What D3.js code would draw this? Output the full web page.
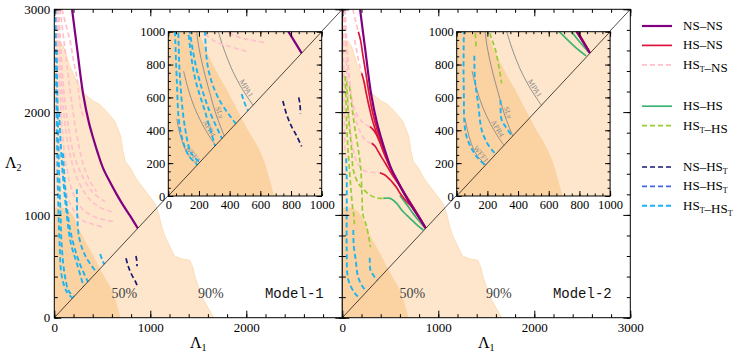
<!DOCTYPE html>
<html>
<head>
<meta charset="utf-8">
<script src="https://cdn.jsdelivr.net/npm/d3@7"></script>
<style>
  body { margin: 0; background: #fff; }
  svg, svg text { font-family: "Liberation Serif", "DejaVu Serif", "Times New Roman", serif; }
  svg text.mono { font-family: "Liberation Mono", "DejaVu Sans Mono", monospace; }
</style>
</head>
<body>
<svg id="chart" width="747" height="358" font-family="Liberation Serif, DejaVu Serif, serif"></svg>
<script>
// ---- data (Lambda_1, Lambda_2 pairs) ----
var mainTicks = [0, 1000, 2000, 3000];
var insetTicks = [0, 200, 400, 600, 800, 1000];
var credLabels = ['50%', '90%'];
var modelNames = ['Model-1', 'Model-2'];

// credible regions of the posterior
var cred90 = [[0,0],[0,2700],[60,2690],[100,2630],[160,2450],[240,2290],[310,2180],[400,2110],[480,2070],[560,1990],[630,1910],[690,1770],[715,1620],[740,1520],[790,1460],[860,1340],[960,1220],[1050,1110],[1090,1000],[1120,880],[1150,800],[1200,700],[1250,600],[1330,570],[1410,560],[1440,500],[1460,420],[1500,300],[1540,200],[1600,100],[1660,0]];
var cred50 = [[0,0],[0,1070],[60,1075],[110,1065],[160,1035],[200,990],[240,900],[280,820],[330,730],[380,650],[430,560],[480,470],[520,400],[560,340],[600,270],[630,200],[655,120],[675,50],[690,0]];

// NS-NS (same in both models)
var nsNs = [[185,3000],[240,2600],[302,2166],[360,1900],[406,1745],[450,1610],[510,1450],[580,1320],[650,1200],[720,1090],[790,990],[869,870]];

// Model-1
var m1HstNs = [
  [[80,3000],[120,2850],[163,2700],[200,2500],[233,2350],[260,2150],[285,2000],[320,1940]],
  [[60,3000],[100,2700],[140,2400],[180,2100],[230,1800],[300,1500],[370,1330],[441,1226]],
  [[45,3000],[70,2600],[100,2200],[140,1900],[200,1600],[280,1400],[400,1220],[528,1128]],
  [[35,3000],[55,2600],[80,2200],[110,1900],[160,1600],[240,1350],[360,1160],[480,1070],[598,1031]],
  [[25,3000],[40,2600],[60,2200],[85,1800],[130,1450],[200,1200],[300,1050],[450,970],[560,945],[632,934]],
  [[18,3000],[28,2500],[42,2000],[65,1600],[105,1300],[170,1100],[272,960],[400,910],[522,878]],
  [[8,3000],[12,2400],[18,1800],[26,1400],[34,1200]]
];
var m1HstHst = [
  [[12,3000],[18,2400],[25,2000],[35,1400],[44,1000],[55,718],[76,414],[130,251],[190,190]],
  [[25,2600],[35,2000],[48,1500],[65,1000],[76,718],[109,414],[150,260],[205,205]],
  [[50,2000],[80,1500],[130,1000],[174,718],[239,515],[305,305]],
  [[90,1600],[115,1250],[141,1000],[185,771],[261,535],[350,350]],
  [[235,1250],[239,1000],[261,771],[326,596],[440,440]],
  [[478,620],[500,560],[520,520]]
];
var m1NsHst = [
  [[747,578],[770,500],[800,430],[840,360],[869,302]],
  [[850,600],[858,560],[862,500]]
];

// Model-2
var m2HsNs = [
  [[167,2782],[190,2700],[215,2550],[245,2380],[275,2200],[310,2020],[350,1870],[400,1720],[460,1560],[520,1420],[590,1300],[660,1185],[730,1075],[800,975],[866,872]],
  [[202,2377],[225,2300],[250,2180],[280,2050],[320,1900],[370,1760],[430,1620],[500,1460],[580,1315],[660,1180],[740,1060],[866,874]],
  [[288,1858],[330,1820],[358,1777],[395,1700],[427,1615],[479,1502],[540,1390],[610,1275],[680,1160],[750,1055],[820,950],[866,875]],
  [[306,1697],[340,1670],[375,1615],[410,1560],[450,1500],[520,1390],[600,1280],[680,1165],[760,1045],[866,878]],
  [[392,1410],[444,1388],[490,1350],[531,1307],[570,1260],[601,1210],[660,1140],[723,1080],[790,990],[862,880]]
];
var m2HstNs = [
  [[20,3000],[35,2700],[55,2450],[85,2200],[120,2050],[170,1950],[230,1885],[288,1858]],
  [[30,3000],[45,2700],[65,2450],[95,2150],[135,1950],[190,1800],[250,1720],[306,1697]],
  [[40,2500],[55,2200],[75,1900],[110,1650],[160,1500],[230,1430],[300,1415],[392,1410]],
  [[110,3000],[140,2880],[167,2782]],
  [[130,2700],[170,2500],[202,2377]],
  [[10,3000],[14,2500],[20,2000],[28,1600]]
];
var m2HsHs = [
  [[427,1161],[497,1161],[566,1113],[618,1048],[705,967],[780,900],[844,853]],
  [[600,1190],[680,1090],[740,1010],[800,940],[860,875]]
];
var m2HstHs = [
  [[30,2350],[38,2100],[45,1900],[55,1700],[70,1500],[90,1250],[110,1050],[120,1000],[126,909]],
  [[45,2300],[55,2100],[65,1950],[80,1800],[98,1630],[115,1437],[167,1307],[219,1250],[288,1193],[360,1165],[427,1161]],
  [[75,2250],[100,2050],[130,1850],[165,1650],[192,1450],[205,1200],[215,1000],[254,885],[293,686]]
];
var m2HstHst = [
  [[40,1550],[46,1372],[46,1000],[46,659],[63,367],[132,237],[184,189]],
  [[115,853],[119,706],[140,560],[163,402],[200,320],[239,270],[255,255]],
  [[286,584],[293,463],[320,420],[358,371],[367,367]]
];

// EOS curves shown in the insets
var eosNames = ['WFF1', 'APR4', 'SLy', 'MPA1'];
var eosCurves = [
  [[55,470],[70,400],[95,320],[130,250],[190,190]],
  [[100,760],[130,650],[170,540],[220,440],[270,360],[308,308]],
  [[185,1000],[200,900],[230,770],[270,630],[310,500],[365,365]],
  [[326,1000],[360,900],[410,780],[470,670],[552,552]]
];

var legendKinds = ['nsNs','hsNs','hstNs', null, 'hsHs','hstHs', null, 'nsHst','hsHst','hstHst'];

// ---- styles ----
var SERIF = '"Liberation Serif", "DejaVu Serif", serif';
var styles = {
  nsNs:   {color: '#800080', width: 2.2, dash: null,  a: 'NS', b: 'NS'},
  hsNs:   {color: '#dc143c', width: 1.7, dash: null,  a: 'HS', b: 'NS'},
  hstNs:  {color: '#ffc0cb', width: 1.7, dash: '5,3', a: 'HST', b: 'NS'},
  hsHs:   {color: '#3cb371', width: 1.7, dash: null,  a: 'HS', b: 'HS'},
  hstHs:  {color: '#9acd32', width: 1.7, dash: '5,3', a: 'HST', b: 'HS'},
  nsHst:  {color: '#191970', width: 1.7, dash: '5,3', a: 'NS', b: 'HST'},
  hsHst:  {color: '#4169e1', width: 1.7, dash: '5,3', a: 'HS', b: 'HST'},
  hstHst: {color: '#1cb4f0', width: 1.9, dash: '5,3', a: 'HST', b: 'HST'}
};
var fill90 = '#fde6cb', fill50 = '#fbd3a3';

var svg = d3.select('#chart');
var defs = svg.append('defs');

var panels = [
  {x0: 54.3, ix0: 168.3, name: modelNames[0], showYLabels: true, xLabels: [0, 1000, 2000],
   series: [['hstNs', m1HstNs], ['hstHst', m1HstHst], ['nsHst', m1NsHst], ['nsNs', [nsNs]]]},
  {x0: 342.3, ix0: 456.7, name: modelNames[1], showYLabels: false, xLabels: mainTicks,
   series: [['hstNs', m2HstNs], ['hstHst', m2HstHst], ['hstHs', m2HstHs], ['hsHs', m2HsHs], ['hsNs', m2HsNs], ['nsNs', [nsNs]]]}
];

function drawContent(g, x, y, series, withEos) {
  var area = d3.line().x(function(d){ return x(d[0]); }).y(function(d){ return y(d[1]); }).curve(d3.curveLinearClosed);
  g.append('path').attr('d', area(cred90)).attr('fill', fill90).attr('stroke', '#fbd8ae').attr('stroke-width', 0.8);
  g.append('path').attr('d', area(cred50)).attr('fill', fill50);

  var line = d3.line().x(function(d){ return x(d[0]); }).y(function(d){ return y(d[1]); })
    .curve(d3.curveCatmullRom.alpha(0.5));

  if (withEos) {
    eosCurves.forEach(function(c, i) {
      var p = g.append('path').attr('d', line(c)).attr('fill', 'none')
        .attr('stroke', '#888').attr('stroke-width', 0.9);
      var node = p.node(), L = node.getTotalLength();
      var at = L * 0.78;
      var p1 = node.getPointAtLength(at - 2), p2 = node.getPointAtLength(at + 2), pm = node.getPointAtLength(at);
      var ang = Math.atan2(p2.y - p1.y, p2.x - p1.x) * 180 / Math.PI;
      g.append('text').attr('transform', 'translate(' + pm.x + ',' + pm.y + ') rotate(' + ang + ')')
        .attr('dy', -1.5).attr('text-anchor', 'middle').attr('font-size', 7.5)
        .style('font-family', SERIF).attr('fill', '#888').text(eosNames[i]);
    });
  }

  series.forEach(function(s) {
    var st = styles[s[0]];
    s[1].forEach(function(pts) {
      g.append('path').attr('d', line(pts)).attr('fill', 'none')
        .attr('stroke', st.color).attr('stroke-width', st.width)
        .attr('stroke-dasharray', st.dash);
    });
  });

  // diagonal Lambda1 = Lambda2
  var dmax = x.domain()[1];
  g.append('line').attr('x1', x(0)).attr('y1', y(0)).attr('x2', x(dmax)).attr('y2', y(dmax))
    .attr('stroke', '#000').attr('stroke-width', 0.7);
}

function drawFrame(g, x, y, majors, minors, majLen, minLen, xLab, yLab, fs, pad) {
  var bot = y.range()[0], top = y.range()[1], lft = x.range()[0], rgt = x.range()[1];
  function fmt(list) { return function(d){ return list && list.indexOf(d) >= 0 ? d : ''; }; }
  var style = function(a) {
    a.attr('font-family', null).attr('font-size', fs);
    a.selectAll('text').style('font-family', SERIF).style('font-size', fs + 'px');
    a.select('.domain').remove();
  };

  g.append('g').attr('transform', 'translate(0,' + bot + ')')
    .call(d3.axisBottom(x).tickValues(majors).tickSize(-majLen).tickPadding(pad).tickFormat(fmt(xLab))).call(style);
  g.append('g').attr('transform', 'translate(0,' + bot + ')')
    .call(d3.axisBottom(x).tickValues(minors).tickSize(-minLen).tickFormat('')).call(style);
  g.append('g').attr('transform', 'translate(0,' + top + ')')
    .call(d3.axisTop(x).tickValues(majors).tickSize(-majLen).tickFormat('')).call(style);
  g.append('g').attr('transform', 'translate(0,' + top + ')')
    .call(d3.axisTop(x).tickValues(minors).tickSize(-minLen).tickFormat('')).call(style);
  g.append('g').attr('transform', 'translate(' + lft + ',0)')
    .call(d3.axisLeft(y).tickValues(majors).tickSize(-majLen).tickPadding(pad - 1).tickFormat(fmt(yLab))).call(style);
  g.append('g').attr('transform', 'translate(' + lft + ',0)')
    .call(d3.axisLeft(y).tickValues(minors).tickSize(-minLen).tickFormat('')).call(style);
  g.append('g').attr('transform', 'translate(' + rgt + ',0)')
    .call(d3.axisRight(y).tickValues(majors).tickSize(-majLen).tickFormat('')).call(style);
  g.append('g').attr('transform', 'translate(' + rgt + ',0)')
    .call(d3.axisRight(y).tickValues(minors).tickSize(-minLen).tickFormat('')).call(style);

  g.append('rect').attr('x', lft).attr('y', top).attr('width', rgt - lft).attr('height', bot - top)
    .attr('fill', 'none').attr('stroke', '#000').attr('stroke-width', 1);
}

panels.forEach(function(p, i) {
  var x = d3.scaleLinear().domain([0, 3000]).range([p.x0, p.x0 + 288]);
  var y = d3.scaleLinear().domain([0, 3000]).range([317.7, 9.3]);
  var ix = d3.scaleLinear().domain([0, 1000]).range([p.ix0, p.ix0 + 153.4]);
  var iy = d3.scaleLinear().domain([0, 1000]).range([196, 31.7]);

  defs.append('clipPath').attr('id', 'clipMain' + i).append('rect')
    .attr('x', x(0)).attr('y', y(3000)).attr('width', x(3000) - x(0)).attr('height', y(0) - y(3000));
  defs.append('clipPath').attr('id', 'clipInset' + i).append('rect')
    .attr('x', ix(0)).attr('y', iy(1000)).attr('width', ix(1000) - ix(0)).attr('height', iy(0) - iy(1000));

  var gm = svg.append('g').attr('clip-path', 'url(#clipMain' + i + ')');
  drawContent(gm, x, y, p.series, false);

  var yl = 298;
  gm.append('text').attr('x', x(730)).attr('y', yl).attr('text-anchor', 'middle')
    .style('font-family', SERIF).style('font-size', '14px').attr('fill', '#444').text(credLabels[0]);
  gm.append('text').attr('x', x(1630)).attr('y', yl).attr('text-anchor', 'middle')
    .style('font-family', SERIF).style('font-size', '14px').attr('fill', '#444').text(credLabels[1]);
  gm.append('text').attr('class', 'mono').attr('x', x(2500)).attr('y', yl).attr('text-anchor', 'middle')
    .style('font-size', '14px').attr('fill', '#111').text(p.name);

  drawFrame(svg.append('g'), x, y, mainTicks, d3.range(0, 3001, 200), 7, 3.5,
    p.xLabels, p.showYLabels ? mainTicks : null, 13, 5);

  // x-axis title
  var xt = svg.append('text').attr('x', (x(0) + x(3000)) / 2).attr('y', 348)
    .attr('text-anchor', 'middle').style('font-family', SERIF).style('font-size', '16px').text('Λ');
  xt.append('tspan').style('font-size', '10px').attr('dy', 3).text('1');

  // inset
  svg.append('rect').attr('x', ix(0)).attr('y', iy(1000)).attr('width', ix(1000) - ix(0))
    .attr('height', iy(0) - iy(1000)).attr('fill', '#fff');
  var gi = svg.append('g').attr('clip-path', 'url(#clipInset' + i + ')');
  drawContent(gi, ix, iy, p.series, true);
  drawFrame(svg.append('g'), ix, iy, insetTicks, d3.range(0, 1001, 50), 5, 2.5,
    insetTicks, insetTicks, 12.5, 4);
});

// y-axis title
var yt = svg.append('text').attr('x', 5).attr('y', 168).style('font-family', SERIF).style('font-size', '16px').text('Λ');
yt.append('tspan').style('font-size', '10px').attr('dy', 3).text('2');

// legend
var ly = 26;
legendKinds.forEach(function(k) {
  if (!k) { ly += 22; return; }
  var st = styles[k];
  svg.append('line').attr('x1', 642).attr('x2', 672).attr('y1', ly).attr('y2', ly)
    .attr('stroke', st.color).attr('stroke-width', st.width).attr('stroke-dasharray', st.dash);
  var t = svg.append('text').attr('x', 683).attr('y', ly + 4)
    .style('font-family', SERIF).style('font-size', '13px');
  function part(txt) {
    if (txt === 'HST') {
      t.append('tspan').text('HS');
      t.append('tspan').style('font-size', '8px').attr('dy', 3).text('T');
      t.append('tspan').attr('dy', -3).text('');
    } else {
      t.append('tspan').text(txt);
    }
  }
  part(st.a);
  t.append('tspan').text('–');
  part(st.b);
  ly += 19.4;
});
</script>
</body>
</html>
